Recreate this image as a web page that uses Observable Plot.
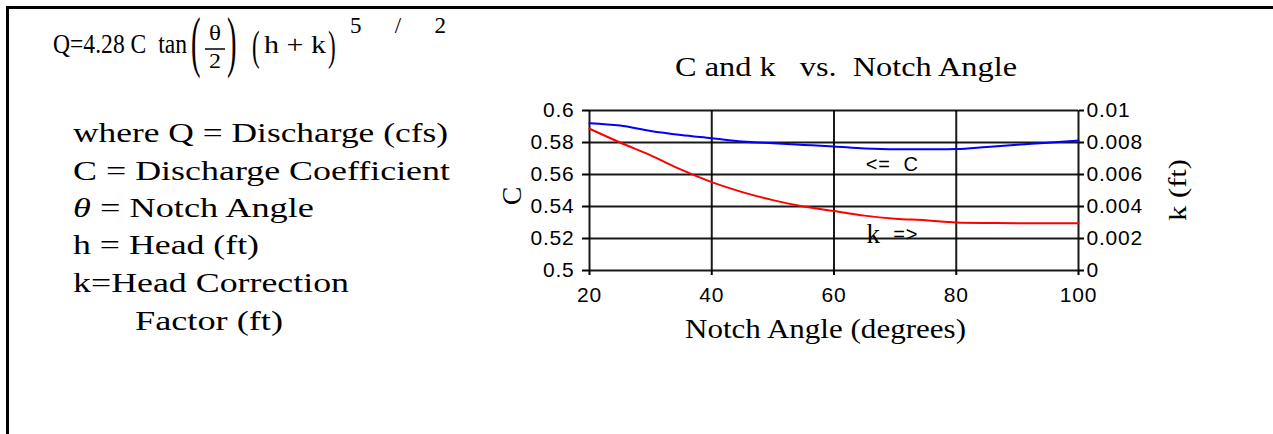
<!DOCTYPE html>
<html>
<head>
<meta charset="utf-8">
<script src="https://cdn.jsdelivr.net/npm/d3@7"></script>
<script src="https://cdn.jsdelivr.net/npm/@observablehq/plot@0.6"></script>
<style>
  html, body { margin: 0; padding: 0; background: #fff; }
  #wrap { position: relative; width: 1273px; height: 434px; overflow: hidden; background: #fff; }
  #frame { position: absolute; left: 6px; top: 6px; right: -10px; bottom: -10px; border-left: 3px solid #000; border-top: 3px solid #000; }
  #chart { position: absolute; left: 0; top: 0; }
  #chart text { letter-spacing: 0.8px; }
  #txt { position: absolute; left: 0; top: 0; }
  #txt text { font-family: "Liberation Serif", "DejaVu Serif", serif; fill: #000; white-space: pre; }
</style>
</head>
<body>
<div id="wrap">
  <div id="frame"></div>
  <div id="chart"></div>
  <svg id="txt" width="1273" height="434" xmlns="http://www.w3.org/2000/svg">
    <!-- formula -->
    <text x="53" y="53" font-size="27" textLength="134" lengthAdjust="spacingAndGlyphs">Q=4.28 C  tan</text>
    <text transform="translate(191,64) scale(0.42,1)" font-size="68">(</text>
    <text x="209" y="40" font-size="21" textLength="12" lengthAdjust="spacingAndGlyphs">θ</text>
    <line x1="205" y1="49" x2="225" y2="49" stroke="#000" stroke-width="1.5"></line>
    <text x="209" y="68" font-size="22" textLength="12" lengthAdjust="spacingAndGlyphs">2</text>
    <text transform="translate(227,64) scale(0.42,1)" font-size="68">)</text>
    <text transform="translate(252,60) scale(0.55,1)" font-size="42">(</text>
    <text x="264" y="53" font-size="26" textLength="62" lengthAdjust="spacingAndGlyphs">h + k</text>
    <text transform="translate(328,60) scale(0.55,1)" font-size="42">)</text>
    <text x="350" y="33" font-size="23" textLength="96" lengthAdjust="spacing">5 / 2</text>
    <!-- definitions -->
    <text x="73" y="142" font-size="27" textLength="375" lengthAdjust="spacingAndGlyphs">where Q = Discharge (cfs)</text>
    <text x="73" y="180" font-size="27" textLength="377" lengthAdjust="spacingAndGlyphs">C = Discharge Coefficient</text>
    <text x="73" y="217" font-size="27" textLength="241" lengthAdjust="spacingAndGlyphs"><tspan font-style="italic">θ</tspan> = Notch Angle</text>
    <text x="73" y="254" font-size="27" textLength="186" lengthAdjust="spacingAndGlyphs">h = Head (ft)</text>
    <text x="73" y="292" font-size="27" textLength="276" lengthAdjust="spacingAndGlyphs">k=Head Correction</text>
    <text x="135" y="330" font-size="27" textLength="148" lengthAdjust="spacingAndGlyphs">Factor (ft)</text>
    <!-- chart titles -->
    <text x="675" y="76" font-size="28" textLength="342" lengthAdjust="spacingAndGlyphs">C and k   vs.  Notch Angle</text>
    <text x="685" y="338" font-size="27" textLength="281" lengthAdjust="spacingAndGlyphs">Notch Angle (degrees)</text>
    <text transform="translate(521,196) rotate(-90)" text-anchor="middle" font-size="28">C</text>
    <text transform="translate(1186,190) rotate(-90)" text-anchor="middle" font-size="26" textLength="62" lengthAdjust="spacingAndGlyphs">k (ft)</text>
  </svg>
</div>
<script>
// ---- data ----
const angles = [20, 25, 30, 35, 40, 45, 50, 55, 60, 65, 70, 75, 80, 85, 90, 95, 100];
const cValues = [0.5921, 0.5906, 0.5872, 0.5847, 0.5827, 0.5806, 0.5795, 0.5785, 0.5775, 0.5763, 0.5758, 0.5758, 0.5759, 0.5772, 0.5786, 0.5798, 0.5813];
const kValues = [0.00886, 0.0080, 0.0072, 0.0063, 0.00552, 0.0049, 0.0044, 0.0040, 0.00372, 0.00343, 0.00324, 0.00314, 0.00300, 0.00297, 0.00296, 0.00296, 0.00296];

const xTicks = [20, 40, 60, 80, 100];
const xTickLabels = ["20", "40", "60", "80", "100"];
const cTicks = [0.5, 0.52, 0.54, 0.56, 0.58, 0.6];
const cTickLabels = ["0.5", "0.52", "0.54", "0.56", "0.58", "0.6"];
const kTicks = [0, 0.002, 0.004, 0.006, 0.008, 0.01];
const kTickLabels = ["0", "0.002", "0.004", "0.006", "0.008", "0.01"];
const cDomain = [0.5, 0.6];
const kDomain = [0, 0.01];

const noteAngles = [65.2, 65.3, 69.7];
const noteValues = [0.5663, 0.5228, 0.5226];
const noteLabels = ["<=  C", "k", "=>"];
const noteFonts = ["sans", "serif", "sans"];

// ---- build tables ----
const toC = k => cDomain[0] + (k - kDomain[0]) * (cDomain[1] - cDomain[0]) / (kDomain[1] - kDomain[0]);
const cData = angles.map((a, i) => ({angle: a, value: cValues[i]}));
const kData = angles.map((a, i) => ({angle: a, value: toC(kValues[i])}));
const notes = noteAngles.map((a, i) => ({angle: a, value: noteValues[i], label: noteLabels[i], font: noteFonts[i]}));

const xFmt = new Map(xTicks.map((t, i) => [t, xTickLabels[i]]));
const cFmt = new Map(cTicks.map((t, i) => [t, cTickLabels[i]]));
const kPos = kTicks.map(toC);
const kFmt = new Map(kPos.map((t, i) => [t, kTickLabels[i]]));

const tickFont = {fontFamily: "Liberation Sans, Arial, sans-serif", fontSize: 21};

const chart = Plot.plot({
  width: 1273,
  height: 434,
  marginLeft: 589,
  marginRight: 195,
  marginTop: 110,
  marginBottom: 164,
  style: {background: "transparent", color: "#000", overflow: "visible"},
  x: {domain: [20, 100]},
  y: {domain: cDomain},
  marks: [
    Plot.gridX(xTicks, {stroke: "#000", strokeOpacity: 0.9, strokeWidth: 2}),
    Plot.gridY(cTicks, {stroke: "#000", strokeOpacity: 0.9, strokeWidth: 2}),
    Plot.axisX(xTicks, {tickSize: 5, tickPadding: 12, strokeWidth: 2, label: null, tickFormat: d => xFmt.get(d), ...tickFont}),
    Plot.axisY(cTicks, {anchor: "left", tickSize: 7, tickPadding: 8, strokeWidth: 2, label: null, tickFormat: d => cFmt.get(d), ...tickFont}),
    Plot.axisY(kPos, {anchor: "right", tickSize: 5, tickPadding: 3, strokeWidth: 2, label: null, tickFormat: d => kFmt.get(d), ...tickFont}),
    Plot.line(cData, {x: "angle", y: "value", stroke: "#0000ff", strokeWidth: 2, curve: "monotone-x"}),
    Plot.line(kData, {x: "angle", y: "value", stroke: "#ff0000", strokeWidth: 2, curve: "monotone-x"}),
    Plot.text(notes.filter(d => d.font === "sans"), {x: "angle", y: "value", text: "label", textAnchor: "start", fontFamily: "Liberation Sans, Arial, sans-serif", fontSize: 20}),
    Plot.text(notes.filter(d => d.font === "serif"), {x: "angle", y: "value", text: "label", textAnchor: "start", fontFamily: "Liberation Serif, serif", fontSize: 27})
  ]
});
document.getElementById("chart").appendChild(chart);
</script>
</body>
</html>
